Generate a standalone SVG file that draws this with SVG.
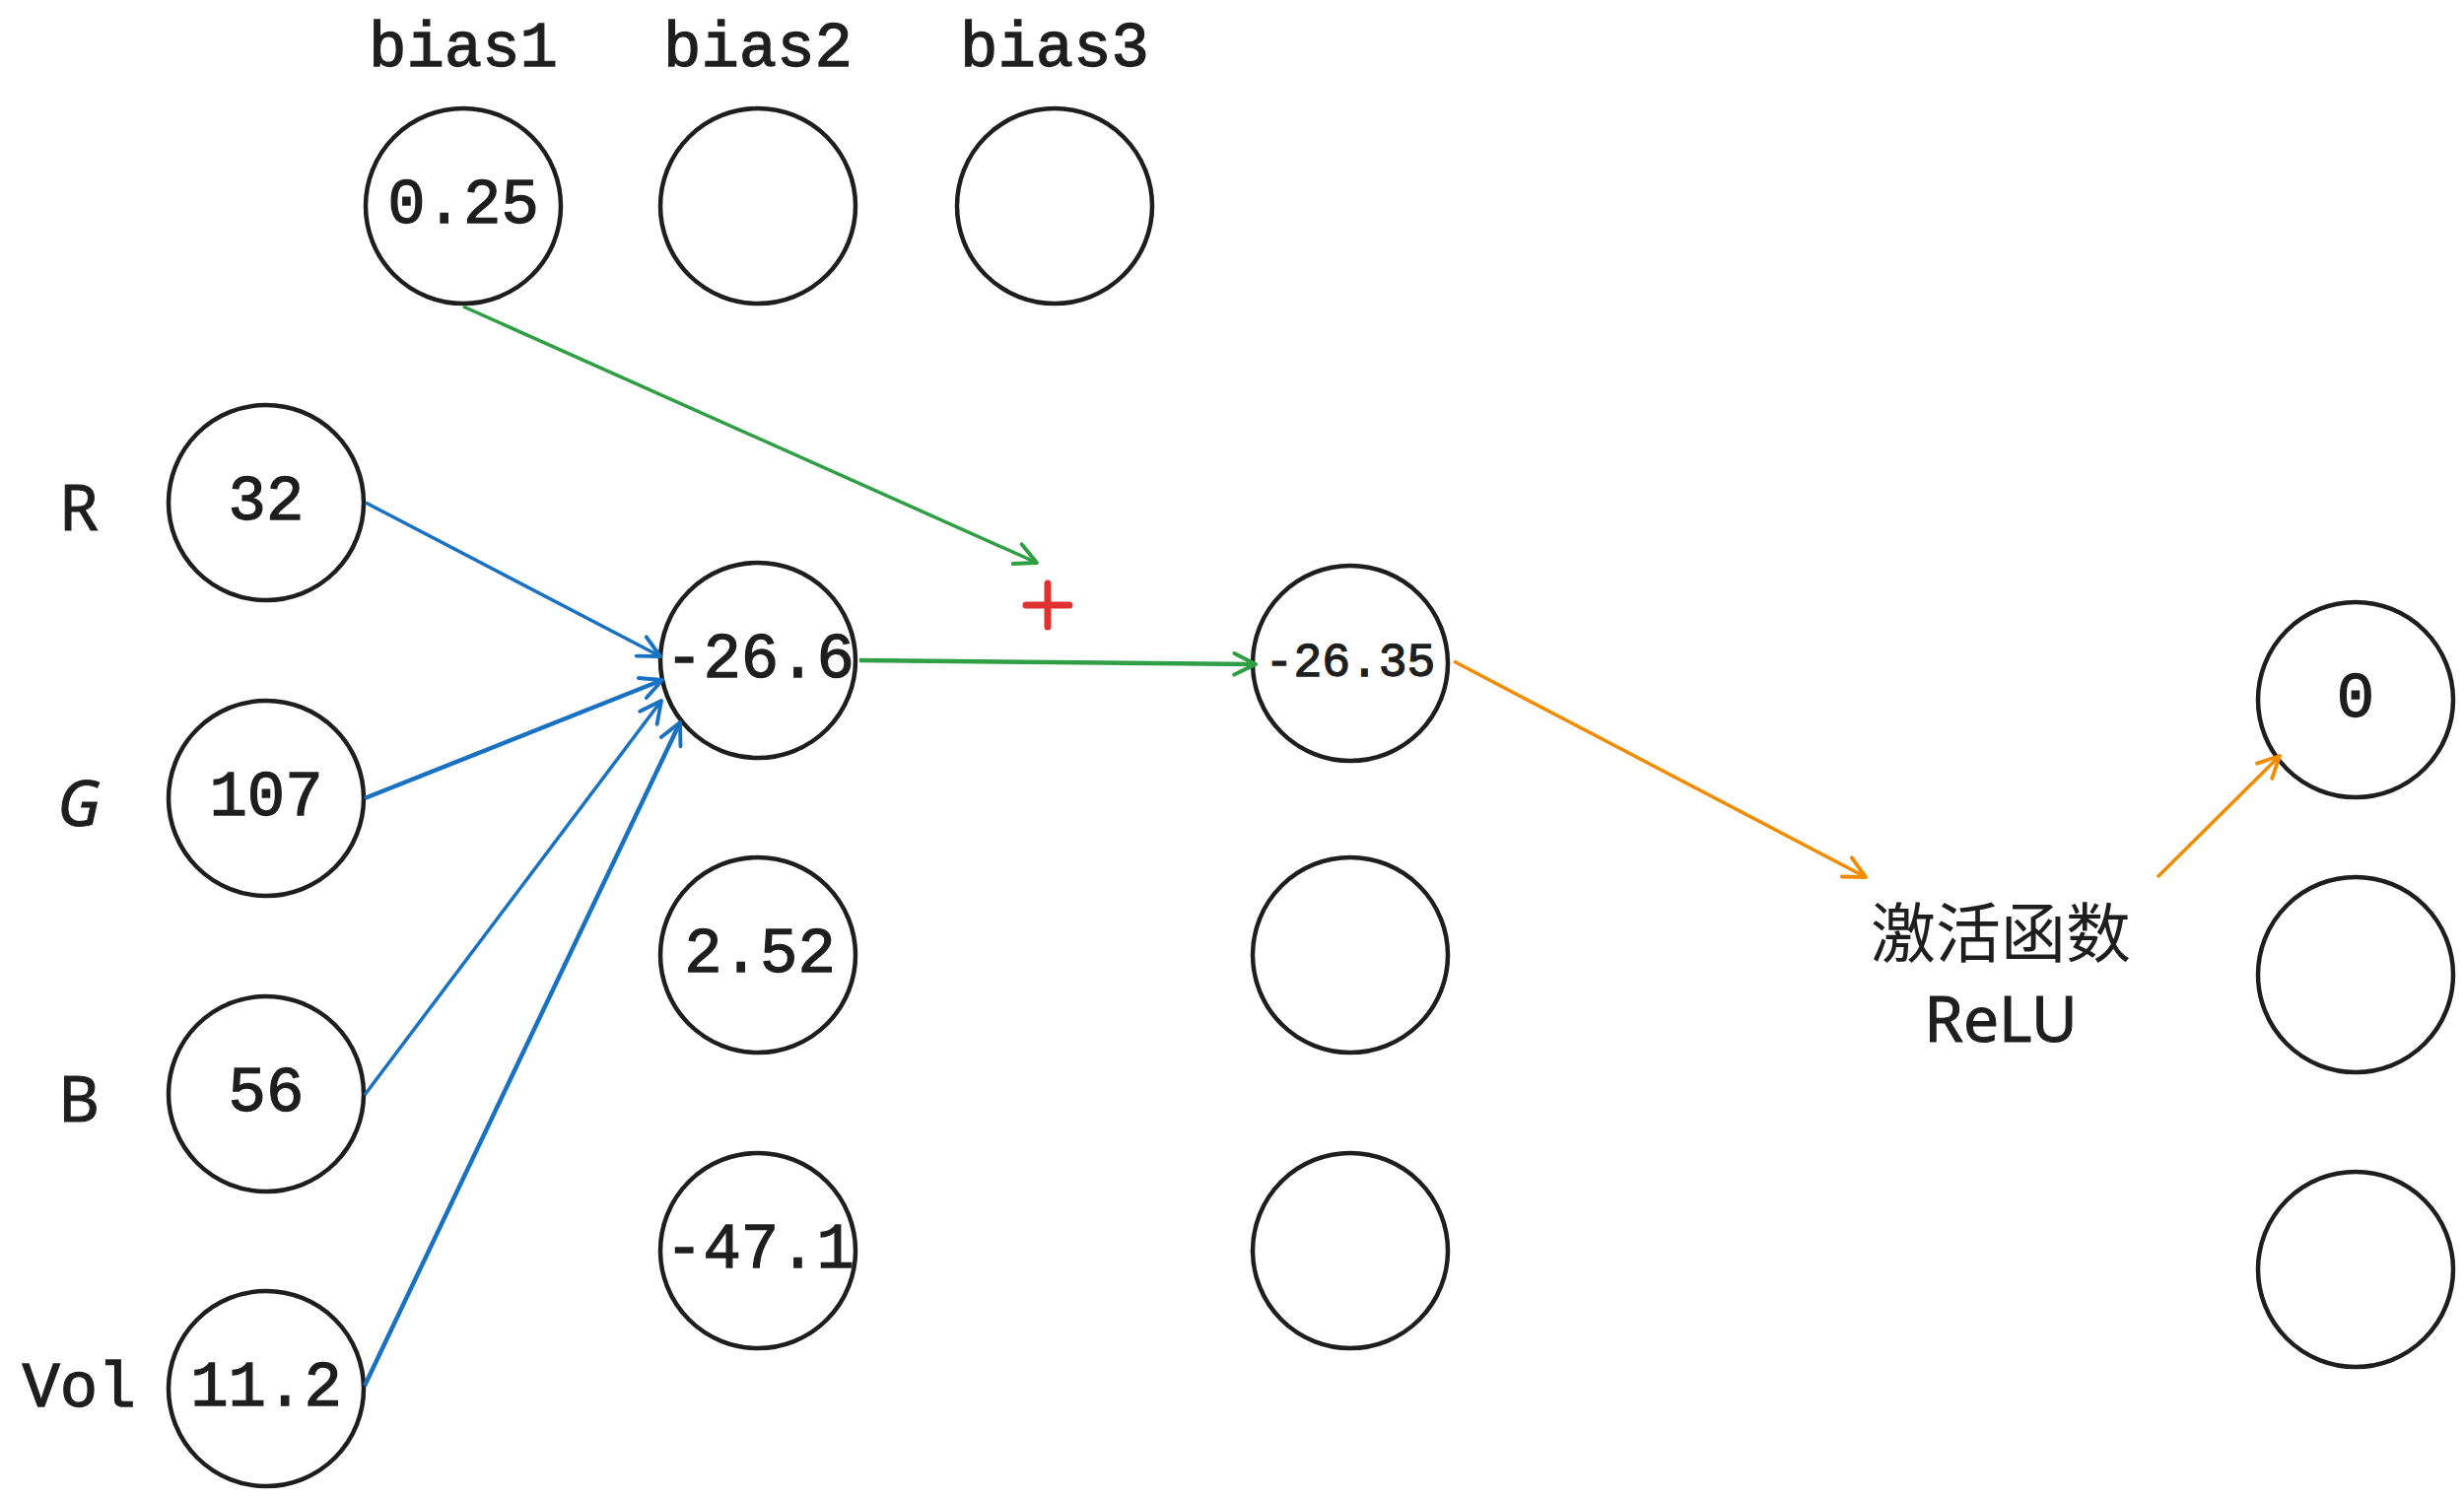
<svg xmlns="http://www.w3.org/2000/svg" width="2500" height="1520" viewBox="0 0 2500 1520">
<style>
.n{fill:#fff;stroke:#1e1e1e;stroke-width:4.5}
.t{font-family:"Liberation Mono","DejaVu Sans Mono",monospace;font-size:64px;fill:#1e1e1e;stroke:#1e1e1e;stroke-width:1.3;text-anchor:middle;dominant-baseline:central}
.s{font-family:"Noto Sans","Liberation Sans",sans-serif;font-size:64px;fill:#1e1e1e;stroke:#1e1e1e;stroke-width:1;text-anchor:middle;dominant-baseline:central}
.c{font-family:"Noto Sans CJK SC","Noto Sans",sans-serif;font-size:66px;fill:#1e1e1e;text-anchor:middle;dominant-baseline:central}
.b{stroke:#1971c2;stroke-width:3.5;fill:none}
.g{stroke:#2f9e44;stroke-width:3.5;fill:none}
.o{stroke:#f08c00;stroke-width:3.5;fill:none}
</style>
<defs>
<marker id="ab" viewBox="0 0 12 12" refX="11" refY="6" markerWidth="26" markerHeight="26" markerUnits="userSpaceOnUse" orient="auto"><path d="M1,1 L11,6 L1,11" fill="none" stroke="#1971c2" stroke-width="1.8" stroke-linecap="round" stroke-linejoin="round"/></marker>
<marker id="ag" viewBox="0 0 12 12" refX="11" refY="6" markerWidth="26" markerHeight="26" markerUnits="userSpaceOnUse" orient="auto"><path d="M1,1 L11,6 L1,11" fill="none" stroke="#2f9e44" stroke-width="1.8" stroke-linecap="round" stroke-linejoin="round"/></marker>
<marker id="ao" viewBox="0 0 12 12" refX="11" refY="6" markerWidth="26" markerHeight="26" markerUnits="userSpaceOnUse" orient="auto"><path d="M1,1 L11,6 L1,11" fill="none" stroke="#f08c00" stroke-width="1.8" stroke-linecap="round" stroke-linejoin="round"/></marker>
</defs>
<rect width="2500" height="1520" fill="#fff"/>
<g id="labels">
<text class="t" x="470" y="50">bias1</text>
<text class="t" x="769" y="50">bias2</text>
<text class="t" x="1070" y="50">bias3</text>
<text class="s" x="80" y="513">R</text>
<text class="s" x="80" y="813" font-style="italic">G</text>
<text class="s" x="80" y="1113">B</text>
<text class="t" x="80" y="1410">Vol</text>
</g>
<g id="bias1"><circle class="n" cx="470" cy="209" r="99"/><text class="t" x="470" y="209">0.25</text></g>
<g id="bias2"><circle class="n" cx="769" cy="209" r="99"/></g>
<g id="bias3"><circle class="n" cx="1070" cy="209" r="99"/></g>
<g id="inR"><circle class="n" cx="270" cy="510" r="99"/><text class="t" x="270" y="510">32</text></g>
<g id="inG"><circle class="n" cx="270" cy="810" r="99"/><text class="t" x="270" y="810">107</text></g>
<g id="inB"><circle class="n" cx="270" cy="1110" r="99"/><text class="t" x="270" y="1110">56</text></g>
<g id="inVol"><circle class="n" cx="270" cy="1409" r="99"/><text class="t" x="270" y="1409">11.2</text></g>
<g id="h1"><circle class="n" cx="769" cy="670" r="99"/><text class="t" x="771" y="670">-26.6</text></g>
<g id="h2"><circle class="n" cx="769" cy="969" r="99"/><text class="t" x="771" y="969">2.52</text></g>
<g id="h3"><circle class="n" cx="769" cy="1269" r="99"/><text class="t" x="771" y="1269">-47.1</text></g>
<g id="z1"><circle class="n" cx="1370" cy="673" r="99"/><text class="t" x="1370" y="673" style="font-size:48px">-26.35</text></g>
<g id="z2"><circle class="n" cx="1370" cy="969" r="99"/></g>
<g id="z3"><circle class="n" cx="1370" cy="1269" r="99"/></g>
<g id="o1"><circle class="n" cx="2390" cy="710" r="99"/><text class="t" x="2390" y="710">0</text></g>
<g id="o2"><circle class="n" cx="2390" cy="989" r="99"/></g>
<g id="o3"><circle class="n" cx="2390" cy="1288" r="99"/></g>
<g id="relu"><text class="c" x="2030" y="942">激活函数</text><text class="s" x="2030" y="1032">ReLU</text></g>
<g id="plus"><path d="M1063,592 V636 M1041,614 H1085" stroke="#e03131" stroke-width="7" stroke-linecap="round"/></g>
<g id="connectors">
<line class="g" x1="470" y1="311" x2="1052" y2="571" marker-end="url(#ag)"/>
<line class="g" x1="872" y1="670" x2="1274" y2="674" marker-end="url(#ag)" style="stroke-width:4.5"/>
<line class="b" x1="371" y1="510" x2="670" y2="666" marker-end="url(#ab)"/>
<line class="b" x1="370" y1="810" x2="672" y2="690" marker-end="url(#ab)" style="stroke-width:4.5"/>
<line class="b" x1="370" y1="1111" x2="671" y2="711" marker-end="url(#ab)"/>
<line class="b" x1="370" y1="1406" x2="690" y2="733" marker-end="url(#ab)" style="stroke-width:4.5"/>
<line class="o" x1="1475" y1="671" x2="1893" y2="890" marker-end="url(#ao)"/>
<line class="o" x1="2189" y1="890" x2="2313" y2="767" marker-end="url(#ao)"/>
</g>
</svg>
